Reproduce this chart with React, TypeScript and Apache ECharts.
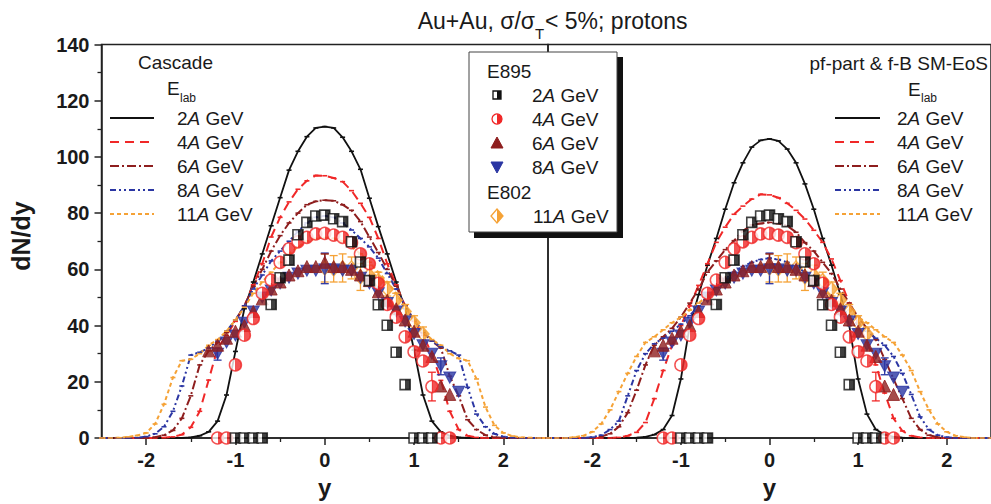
import React, { useEffect, useRef } from 'react';
import * as echarts from 'echarts';

const FONT = '"Liberation Sans", Arial, Helvetica, sans-serif';

// rapidity grid of the model curves
const rapidity = [-2.5, -2.4, -2.3, -2.2, -2.1, -2.0, -1.9, -1.8, -1.7, -1.6, -1.5, -1.4, -1.3, -1.2, -1.1, -1.0, -0.9, -0.8, -0.7, -0.6, -0.5, -0.4, -0.3, -0.2, -0.1, 0, 0.1, 0.2, 0.3, 0.4, 0.5, 0.6, 0.7, 0.8, 0.9, 1.0, 1.1, 1.2, 1.3, 1.4, 1.5, 1.6, 1.7, 1.8, 1.9, 2.0, 2.1, 2.2, 2.3, 2.4, 2.5];

// Cascade (left panel)
const cascade2A = [0, 0, 0, 0, 0, 0, 0, 0, 0, 0.05, 0.2, 0.8, 2.2, 6, 15.3, 30.8, 46, 55.5, 65.5, 75.5, 85.5, 95.3, 102, 107.2, 110.3, 110.8, 110.3, 107, 102, 95.6, 85.3, 75.2, 65.5, 55.5, 46, 31.3, 15.3, 6, 2.2, 0.8, 0.2, 0.05, 0, 0, 0, 0, 0, 0, 0, 0, 0];
const cascade4A = [0, 0, 0, 0, 0, 0, 0, 0.1, 0.4, 1.2, 3.8, 9.5, 20.6, 32, 36.5, 41.5, 47, 54.5, 62, 71.5, 78.5, 84, 88.5, 91.5, 93.4, 93.3, 92.5, 91.2, 88, 83.5, 78.5, 71, 62, 54.5, 47, 41.5, 36.5, 30, 20.5, 9.5, 3, 0.8, 0.2, 0, 0, 0, 0, 0, 0, 0, 0];
const cascade6A = [0, 0, 0, 0, 0, 0, 0.3, 1, 2.7, 7, 15, 26, 31, 34, 37.5, 42, 47, 54, 60, 66.5, 72, 76.5, 80, 83, 84.2, 84.6, 84.4, 83, 81, 77, 71.5, 66, 60, 54, 47, 42, 37.5, 34.5, 32, 22, 15, 6.5, 3, 1, 0.3, 0, 0, 0, 0, 0, 0];
const cascade8A = [0, 0, 0, 0, 0.1, 0.5, 1.5, 4, 9.5, 18.5, 29.5, 30.5, 32, 34.5, 38, 42, 47, 53, 58, 63, 66.5, 70, 73.5, 76.5, 78.5, 79, 78.5, 76.5, 74, 71, 68, 64, 58.5, 53, 47, 42, 38, 34.5, 32.5, 31, 29.5, 18, 8.5, 4, 1.5, 0.5, 0.1, 0, 0, 0, 0];
const cascade11A = [0, 0, 0.1, 0.4, 0.9, 1.8, 5, 12, 21.5, 27.5, 28, 30, 33, 35, 38, 42, 46.5, 51.5, 55.5, 59, 62.5, 65.5, 68, 70, 71, 71.3, 71, 70, 68, 65.5, 62.5, 59, 55.5, 51.5, 46.5, 42, 38, 35, 33, 30, 28.3, 27.5, 21, 11, 4.5, 1.8, 0.7, 0.2, 0.1, 0, 0];

// pf-part & f-B SM-EoS (right panel)
const pf2A = [0, 0, 0, 0, 0, 0, 0, 0, 0, 0, 0.1, 0.4, 1.2, 3, 8, 21, 40, 51, 61.5, 71, 81.4, 90.8, 97.9, 103.5, 105.9, 106.4, 105.7, 102.8, 97.9, 90.4, 81.4, 71, 61.5, 51, 40, 21, 8.5, 3, 1.2, 0.4, 0.1, 0, 0, 0, 0, 0, 0, 0, 0, 0, 0];
const pf4A = [0, 0, 0, 0, 0, 0, 0, 0, 0.2, 0.8, 2, 5.5, 14, 24, 33, 40, 47, 54.3, 62, 69.6, 75, 79.6, 82.5, 85, 86.7, 86.5, 85.5, 83.5, 81, 77.9, 73.9, 69.6, 63.7, 56, 48, 41, 34, 26, 16, 7, 2.5, 0.8, 0.2, 0, 0, 0, 0, 0, 0, 0, 0];
const pf6A = [0, 0, 0, 0, 0, 0, 0.5, 1.5, 4, 9, 17, 26, 33, 36, 39, 43, 48, 53, 59, 63, 67, 70.2, 73.7, 75.8, 76.3, 76.7, 76.3, 75.5, 73.2, 69.5, 66.5, 62.5, 58.5, 53, 48, 43, 39, 35, 28, 21, 14, 7, 3, 1, 0.3, 0, 0, 0, 0, 0, 0];
const pf8A = [0, 0, 0, 0, 0, 0.3, 1, 3, 6, 15, 24, 30, 33.5, 35.5, 38, 40.5, 43.5, 47, 50.5, 53.5, 56.5, 59, 61, 62.5, 63.5, 64, 63.5, 62.5, 61, 59, 56.5, 53.5, 50.5, 47, 43.5, 40.5, 38, 35.5, 33, 29, 23, 15.5, 7.5, 3, 1, 0.3, 0, 0, 0, 0, 0];
const pf11A = [0, 0, 0, 0.3, 0.8, 2.2, 5, 10, 16.5, 23, 29, 34, 36, 38.5, 41, 43, 45.5, 48, 50.5, 53, 55.5, 58, 59.5, 61, 61.7, 62, 61.7, 61, 59.5, 58, 55.5, 53, 50.5, 48, 45.5, 43, 41, 38.5, 36, 34, 29.5, 24, 16.5, 10, 5, 2.2, 0.8, 0.3, 0, 0, 0];

// E895 data
const e895Rap2A = [-1.0, -0.9, -0.8, -0.7, -0.6, -0.5, -0.4, -0.3, -0.2, -0.1, 0, 0.1, 0.2, 0.3, 0.4, 0.5, 0.6, 0.7, 0.8, 0.9, 1.0, 1.1, 1.2];
const e895Val2A = [0, 0, 0, 0, 47.5, 57, 63.3, 72.3, 76.7, 79, 79.3, 78, 77, 69.8, 62.6, 56, 47.4, 40.1, 30.5, 19, 0, 0, 0];
const e895Rap4A = [-1.2, -1.1, -1.0, -0.9, -0.8, -0.7, -0.6, -0.5, -0.4, -0.3, -0.2, -0.1, 0, 0.1, 0.2, 0.3, 0.4, 0.5, 0.6, 0.7, 0.8, 0.9, 1.0, 1.1, 1.2, 1.3, 1.4];
const e895Val4A = [0, 0, 26, 36.6, 42.5, 51.5, 56.2, 62.5, 67.3, 69.8, 71.4, 72.6, 72.8, 72.2, 71.4, 69.5, 65.5, 62, 55, 47.5, 43, 36, 30.7, 27.4, 18.3, 0, 0];
const e895Rap6A = [-1.3, -1.2, -1.1, -1.0, -0.9, -0.8, -0.7, -0.6, -0.5, -0.4, -0.3, -0.2, -0.1, 0, 0.1, 0.2, 0.3, 0.4, 0.5, 0.6, 0.7, 0.8, 0.9, 1.0, 1.1, 1.2, 1.3, 1.4];
const e895Val6A = [31, 33, 35.5, 38, 40, 45, 49.5, 53, 55.5, 58, 59.5, 61, 61, 62.5, 61, 61, 60, 58, 56, 52, 49, 46, 42, 38, 33, 29, 18.5, 15.5];
const e895Rap8A = [-1.2, -1.1, -1.0, -0.9, -0.8, -0.7, -0.6, -0.5, -0.4, -0.3, -0.2, -0.1, 0, 0.1, 0.2, 0.3, 0.4, 0.5, 0.6, 0.7, 0.8, 0.9, 1.0, 1.1, 1.2, 1.3, 1.4, 1.5];
const e895Val8A = [30, 34, 36.5, 41, 45, 50, 52.5, 55, 57, 58.5, 59.5, 59.5, 60, 60, 59.5, 59.5, 57, 55, 51.5, 48, 45, 41.5, 37, 33, 30, 25.5, 21.5, 16.5];

// E802 data
const e802Rap11A = [0, 0.1, 0.2, 0.3, 0.4, 0.5, 0.6, 0.7, 0.8, 0.9, 1.0, 1.1];
const e802Val11A = [60.5, 60.2, 60.5, 60.5, 57.3, 58, 56, 53, 49, 45, 41, 37];
const e802Err11A = [5, 4.7, 5, 3.9, 4.8, 3.5, 3, 2.5, 2.5, 2.5, 2.5, 2.5];

// selected E895 error bars
const e895ErrRap = [0, -1.2, 1.2, 0, 1.3];
const e895ErrLow = [54.9, 27.7, 13.2, 59.5, 22.5];
const e895ErrHigh = [65.8, 32, 23.4, 65.5, 28.5];
const e895ErrSet = [3, 3, 1, 2, 3];

const energies = ['2', '4', '6', '8', '11'];
const COLORS = ['#111111', '#f02828', '#8e1e1e', '#2b36a3', '#f5a236'];
const DASHES: any[] = ['solid', [9, 6], [9, 3, 2, 3], [6, 3, 2, 3, 2, 3], [4, 3]];

const cascadeCurves = [cascade2A, cascade4A, cascade6A, cascade8A, cascade11A];
const pfCurves = [pf2A, pf4A, pf6A, pf8A, pf11A];

function halfFill(color: string) {
  return new echarts.graphic.LinearGradient(0, 0, 1, 0, [
    { offset: 0, color: '#ffffff' },
    { offset: 0.5, color: '#ffffff' },
    { offset: 0.5, color },
    { offset: 1, color },
  ]);
}

function buildOption() {
  const series: any[] = [];
  const axisLine = { show: true, onZero: false, lineStyle: { color: '#222', width: 1.5 } };
  [cascadeCurves, pfCurves].forEach((curves, panel) => {
    curves.forEach((vals, k) => {
      series.push({
        type: 'line',
        name: energies[k] + 'A GeV',
        xAxisIndex: panel,
        yAxisIndex: panel,
        data: rapidity.map((x, i) => [x, vals[i]]),
        showSymbol: true,
        symbol: 'rect',
        symbolSize: [5, 1.6],
        lineStyle: { color: COLORS[k], width: k === 0 ? 1.8 : 2, type: DASHES[k] },
        itemStyle: { color: COLORS[k] },
        z: 3,
        silent: true,
      });
    });
    const errData: any[] = [];
    e802Rap11A.forEach((x, i) => errData.push([x, e802Val11A[i] - e802Err11A[i], e802Val11A[i] + e802Err11A[i], 4]));
    e895ErrRap.forEach((x, i) => errData.push([x, e895ErrLow[i], e895ErrHigh[i], e895ErrSet[i]]));
    series.push({
      type: 'custom',
      xAxisIndex: panel,
      yAxisIndex: panel,
      data: errData,
      z: 4,
      silent: true,
      renderItem: (params: any, api: any) => {
        const x = api.value(0);
        const a = api.coord([x, api.value(1)]);
        const b = api.coord([x, api.value(2)]);
        const c = COLORS[api.value(3)];
        const st = { stroke: c, lineWidth: 1.3 };
        return {
          type: 'group',
          children: [
            { type: 'line', shape: { x1: a[0], y1: a[1], x2: b[0], y2: b[1] }, style: st },
            { type: 'line', shape: { x1: a[0] - 4, y1: a[1], x2: a[0] + 4, y2: a[1] }, style: st },
            { type: 'line', shape: { x1: b[0] - 4, y1: b[1], x2: b[0] + 4, y2: b[1] }, style: st },
          ],
        };
      },
    });
    const pts = (xs: number[], vs: number[]) => xs.map((x, i) => [x, vs[i]]);
    series.push({
      type: 'scatter', xAxisIndex: panel, yAxisIndex: panel, z: 5, silent: true,
      data: pts(e802Rap11A, e802Val11A), symbol: 'diamond', symbolSize: [12, 14],
      itemStyle: { color: halfFill(COLORS[4]), borderColor: COLORS[4], borderWidth: 1.5 },
    });
    series.push({
      type: 'scatter', xAxisIndex: panel, yAxisIndex: panel, z: 5, silent: true,
      data: pts(e895Rap8A, e895Val8A), symbol: 'path://M0,0L20,0L10,17Z', symbolSize: [12, 11],
      itemStyle: { color: COLORS[3], borderColor: COLORS[3], borderWidth: 1 },
    });
    series.push({
      type: 'scatter', xAxisIndex: panel, yAxisIndex: panel, z: 5, silent: true,
      data: pts(e895Rap6A, e895Val6A), symbol: 'triangle', symbolSize: [12, 12],
      itemStyle: { color: COLORS[2], borderColor: COLORS[2], borderWidth: 1 },
    });
    series.push({
      type: 'scatter', xAxisIndex: panel, yAxisIndex: panel, z: 5, silent: true,
      data: pts(e895Rap4A, e895Val4A), symbol: 'circle', symbolSize: 12,
      itemStyle: { color: halfFill(COLORS[1]), borderColor: COLORS[1], borderWidth: 1.5 },
    });
    series.push({
      type: 'scatter', xAxisIndex: panel, yAxisIndex: panel, z: 6, silent: true,
      data: pts(e895Rap2A, e895Val2A), symbol: 'rect', symbolSize: 10,
      itemStyle: { color: halfFill('#111'), borderColor: '#111', borderWidth: 1.6 },
    });
  });

  const mainX = (gridIndex: number) => ({
    type: 'value', gridIndex, min: -2.5, max: 2.5,
    axisLine,
    axisTick: { show: true, customValues: [-2, -1, 0, 1, 2], length: 7, lineStyle: { color: '#222', width: 1.5 } },
    axisLabel: { customValues: [-2, -1, 0, 1, 2], fontSize: 20, fontWeight: 'bold', fontFamily: FONT, color: '#1a1a1a', margin: 12 },
    splitLine: { show: false },
    name: 'y', nameLocation: 'middle', nameGap: 37,
    nameTextStyle: { fontSize: 24, fontWeight: 'bold', fontFamily: FONT, color: '#1a1a1a' },
  });
  const minorX = (gridIndex: number) => ({
    type: 'value', gridIndex, min: -2.5, max: 2.5, position: 'bottom',
    axisLine: { show: false, onZero: false },
    axisTick: { show: true, customValues: [-1.5, -0.5, 0.5, 1.5], length: 4, lineStyle: { color: '#222', width: 1.3 } },
    axisLabel: { show: false },
    splitLine: { show: false },
  });

  const T = (text: string, x: number, y: number, size: number, extra: any = {}) => ({
    type: 'text', x, y, z: 100,
    style: { text, font: `${size}px ${FONT}`, fill: '#1a1a1a', align: 'left', verticalAlign: 'middle', ...extra },
  });
  const geV = (e: string, x: number, y: number) => ({
    type: 'text', x, y, z: 100,
    style: {
      text: `${e}{i|A} GeV`, font: `19px ${FONT}`, fill: '#1a1a1a', align: 'left', verticalAlign: 'middle',
      rich: { i: { font: `italic 19px ${FONT}`, fill: '#1a1a1a' } },
    },
  });
  const rows = [118, 142, 166, 190, 214];
  const graphic: any[] = [];
  // title
  graphic.push(T('Au+Au, σ/σ', 535, 21, 23, { align: 'right' }));
  graphic.push(T('T', 535, 33, 15));
  graphic.push(T('< 5%; protons', 545, 21, 23));
  // y axis name
  graphic.push({
    type: 'text', x: 21, y: 236, rotation: Math.PI / 2, z: 100,
    style: { text: 'dN/dy', font: `bold 25px ${FONT}`, fill: '#1a1a1a', align: 'center', verticalAlign: 'middle' },
  });
  // left legend (Cascade)
  graphic.push(T('Cascade', 138, 62, 19));
  graphic.push(T('E', 167, 88, 19));
  graphic.push(T('lab', 180, 98, 12));
  // right legend
  graphic.push(T('pf-part & f-B SM-EoS', 988, 63, 19, { align: 'right' }));
  graphic.push(T('E', 908, 89, 19));
  graphic.push(T('lab', 921, 98, 12));
  energies.forEach((e, k) => {
    [[110, 154, 177], [835, 880, 897]].forEach(([x1, x2, tx]) => {
      graphic.push({
        type: 'line', z: 100,
        shape: { x1, y1: rows[k], x2, y2: rows[k] },
        style: { stroke: COLORS[k], lineWidth: 2, lineDash: DASHES[k] === 'solid' ? null : DASHES[k] },
      });
      graphic.push(geV(e, tx, rows[k]));
    });
  });
  // center legend box (data)
  graphic.push({ type: 'rect', z: 99, shape: { x: 474, y: 57, width: 149, height: 181 }, style: { fill: '#111' } });
  graphic.push({ type: 'rect', z: 100, shape: { x: 469, y: 52, width: 148, height: 180 }, style: { fill: '#fff', stroke: '#444', lineWidth: 1 } });
  graphic.push(T('E895', 487, 71, 19));
  graphic.push(T('E802', 487, 192, 19));
  const boxRows = [95, 119, 143, 167, 216];
  graphic.push({ type: 'rect', z: 101, shape: { x: 493, y: boxRows[0] - 4, width: 8, height: 8 }, style: { fill: halfFill('#111'), stroke: '#111', lineWidth: 1.3 } });
  graphic.push({ type: 'circle', z: 101, shape: { cx: 497, cy: boxRows[1], r: 5 }, style: { fill: halfFill(COLORS[1]), stroke: COLORS[1], lineWidth: 1.3 } });
  graphic.push({ type: 'polygon', z: 101, shape: { points: [[497, boxRows[2] - 6], [503, boxRows[2] + 5], [491, boxRows[2] + 5]] }, style: { fill: COLORS[2], stroke: COLORS[2], lineWidth: 1 } });
  graphic.push({ type: 'polygon', z: 101, shape: { points: [[491, boxRows[3] - 5], [503, boxRows[3] - 5], [497, boxRows[3] + 6]] }, style: { fill: COLORS[3], stroke: COLORS[3], lineWidth: 1 } });
  graphic.push({ type: 'polygon', z: 101, shape: { points: [[497, boxRows[4] - 7], [503, boxRows[4]], [497, boxRows[4] + 7], [491, boxRows[4]]] }, style: { fill: halfFill(COLORS[4]), stroke: COLORS[4], lineWidth: 1.3 } });
  energies.forEach((e, k) => graphic.push(geV(e, k === 4 ? 533 : 532, boxRows[k])));

  return {
    animation: false,
    backgroundColor: '#ffffff',
    grid: [
      { left: 101.5, top: 44.5, width: 446.5, height: 395.5, show: true, borderColor: '#222', borderWidth: 1.5, backgroundColor: 'transparent' },
      { left: 548, top: 44.5, width: 445.5, height: 395.5, show: true, borderColor: '#222', borderWidth: 1.5, backgroundColor: 'transparent' },
    ],
    xAxis: [mainX(0), mainX(1), minorX(0), minorX(1)],
    yAxis: [
      {
        type: 'value', gridIndex: 0, min: 0, max: 140, interval: 20,
        axisLine: { show: true, onZero: false, lineStyle: { color: '#222', width: 1.5 } },
        axisTick: { show: true, length: 7, lineStyle: { color: '#222', width: 1.5 } },
        minorTick: { show: true, splitNumber: 2, length: 4, lineStyle: { color: '#222', width: 1.3 } },
        axisLabel: { fontSize: 20, fontWeight: 'bold', fontFamily: FONT, color: '#1a1a1a', margin: 12 },
        splitLine: { show: false },
        minorSplitLine: { show: false },
      },
      {
        type: 'value', gridIndex: 1, min: 0, max: 140, interval: 20,
        axisLine: { show: false, onZero: false }, axisTick: { show: false }, axisLabel: { show: false },
        splitLine: { show: false }, minorSplitLine: { show: false },
      },
    ],
    series,
    graphic,
  };
}

export default function App() {
  const ref = useRef<HTMLDivElement>(null);
  useEffect(() => {
    if (!ref.current) return;
    const chart = echarts.init(ref.current, undefined, { renderer: 'svg' });
    chart.setOption(buildOption() as any);
    return () => chart.dispose();
  }, []);
  return <div ref={ref} style={{ position: 'absolute', left: 0, top: 0, width: 991, height: 504 }} />;
}
